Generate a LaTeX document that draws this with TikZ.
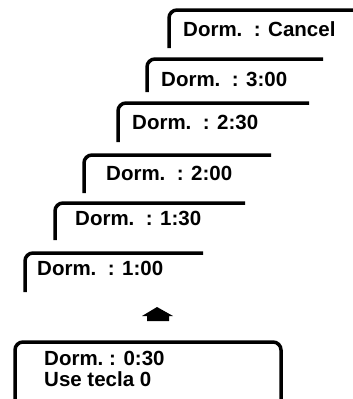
\documentclass[tikz,border=0pt]{standalone}
\usepackage{fontspec}
\setmainfont{Liberation Sans}
\begin{document}
\begin{tikzpicture}[x=1pt,y=-1pt,
  frame/.style={line width=3.5pt,rounded corners=8pt},
  lcd/.style={anchor=base west,inner sep=0pt,font=\bfseries\fontsize{20.5}{24}\selectfont}]
\useasboundingbox (0,0) rectangle (353,399);
% timer steps, lowest first:
\path[draw,frame] (25,292) -- (25,253) -- (203,253);
\node[lcd] (t100) at (37,275) {Dorm.\ \ : 1:00};
\path[draw,frame] (55,240) -- (55,203) -- (245,203);
\node[lcd] (t130) at (75,225) {Dorm.\ \ : 1:30};
\path[draw,frame] (84,193) -- (84,155) -- (271,155);
\node[lcd] (t200) at (106,180) {Dorm.\ \ : 2:00};
\path[draw,frame] (118,142) -- (118,103) -- (309,103);
\node[lcd] (t230) at (132,129) {Dorm.\ \ : 2:30};
\path[draw,frame] (147,92) -- (147,59) -- (323,59);
\node[lcd] (t300) at (161,86) {Dorm.\ \ : 3:00};
\path[draw,frame] (169,48) -- (169,10) -- (360,10);
\node[lcd] (tcancel) at (183,36) {Dorm.\ \ : Cancel};
% key arrow:
\path[fill=black] (142,316) -- (157,307) -- (173,316) -- (169,316) -- (169,321) -- (147,321) -- (147,316) -- cycle;
% display:
\path[draw,frame] (15,410) -- (15,342) -- (281,342) -- (281,410);
\node[lcd] (t030) at (44,365) {Dorm.\ : 0:30};
\node[lcd] (tkey) at (44,386) {Use tecla 0};
\end{tikzpicture}
\end{document}
